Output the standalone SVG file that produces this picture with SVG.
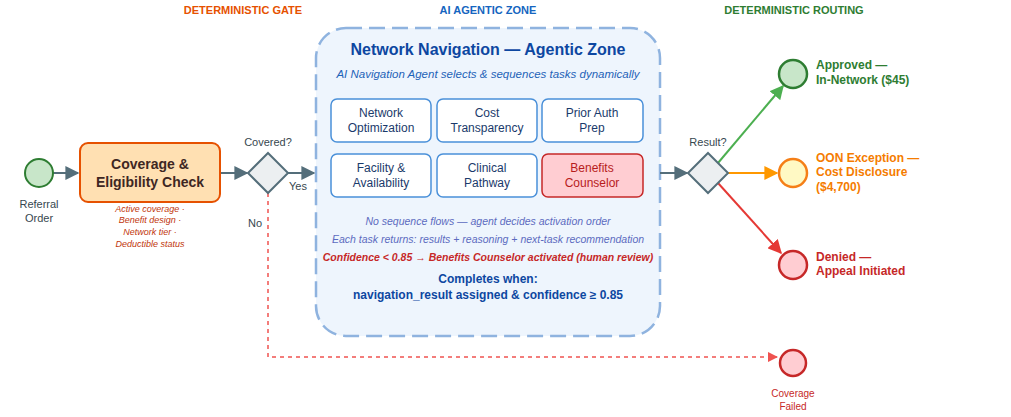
<svg xmlns="http://www.w3.org/2000/svg" width="1011" height="417" viewBox="0 0 1011 417">
<style>
text{font-family:"Liberation Sans",Arial,sans-serif}
.hdr{font-size:11px;font-weight:bold}
.task{fill:#fff;stroke:#4a90d9;stroke-width:1.5}
.tt{font-size:12px;fill:#1a3a6b;text-anchor:middle}
.lbl{font-size:11px;fill:#37474f}
.flow{stroke:#546e7a;stroke-width:2;fill:none}
</style>
<defs>
<marker id="ag" viewBox="0 0 10 10" refX="9" refY="5" markerWidth="7" markerHeight="7" orient="auto"><path d="M0,0L10,5L0,10z" fill="#546e7a"/></marker>
<marker id="agr" viewBox="0 0 10 10" refX="9" refY="5" markerWidth="7" markerHeight="7" orient="auto"><path d="M0,0L10,5L0,10z" fill="#4caf50"/></marker>
<marker id="aor" viewBox="0 0 10 10" refX="9" refY="5" markerWidth="7" markerHeight="7" orient="auto"><path d="M0,0L10,5L0,10z" fill="#ff9800"/></marker>
<marker id="ard" viewBox="0 0 10 10" refX="9" refY="5" markerWidth="7" markerHeight="7" orient="auto"><path d="M0,0L10,5L0,10z" fill="#e53935"/></marker>
<marker id="ard2" viewBox="0 0 10 10" refX="9" refY="5" markerWidth="7" markerHeight="7" orient="auto"><path d="M0,0L10,5L0,10z" fill="#ef5350"/></marker>
</defs>
<rect width="1011" height="417" fill="#fff"/>
<text class="hdr" x="243" y="14" fill="#e65100" text-anchor="middle">DETERMINISTIC GATE</text>
<text class="hdr" x="488" y="14" fill="#1565c0" text-anchor="middle">AI AGENTIC ZONE</text>
<text class="hdr" x="794" y="14" fill="#2e7d32" text-anchor="middle">DETERMINISTIC ROUTING</text>

<g id="zone">
<rect x="316" y="28" width="344" height="308" rx="30" fill="#eef5fd" stroke="#8fb3df" stroke-width="2.5" stroke-dasharray="16,7"/>
<text x="488" y="55" font-size="16" font-weight="bold" fill="#0d47a1" text-anchor="middle">Network Navigation — Agentic Zone</text>
<text x="488" y="78" font-size="11.5" font-style="italic" fill="#1e63b8" text-anchor="middle">AI Navigation Agent selects &amp; sequences tasks dynamically</text>
<text x="488" y="225" font-size="10.5" font-style="italic" fill="#5c6bc0" text-anchor="middle">No sequence flows — agent decides activation order</text>
<text x="488" y="243" font-size="10.5" font-style="italic" fill="#5c6bc0" text-anchor="middle">Each task returns: results + reasoning + next-task recommendation</text>
<text x="488" y="261" font-size="10.5" font-style="italic" font-weight="bold" fill="#c62828" text-anchor="middle">Confidence &lt; 0.85 → Benefits Counselor activated (human review)</text>
<text x="488" y="283" font-size="12" font-weight="bold" fill="#0d47a1" text-anchor="middle">Completes when:</text>
<text x="488" y="299" font-size="12" font-weight="bold" fill="#0d47a1" text-anchor="middle">navigation_result assigned &amp; confidence ≥ 0.85</text>
</g>
<g id="t1"><rect class="task" x="331" y="99" width="100" height="43" rx="6"/><text class="tt" x="381" y="117">Network</text><text class="tt" x="381" y="132">Optimization</text></g>
<g id="t2"><rect class="task" x="437" y="99" width="100" height="43" rx="6"/><text class="tt" x="487" y="117">Cost</text><text class="tt" x="487" y="132">Transparency</text></g>
<g id="t3"><rect class="task" x="542" y="99" width="101" height="43" rx="6"/><text class="tt" x="592" y="117">Prior Auth</text><text class="tt" x="592" y="132">Prep</text></g>
<g id="t4"><rect class="task" x="331" y="154" width="100" height="43" rx="6"/><text class="tt" x="381" y="172">Facility &amp;</text><text class="tt" x="381" y="187">Availability</text></g>
<g id="t5"><rect class="task" x="437" y="154" width="100" height="43" rx="6"/><text class="tt" x="487" y="172">Clinical</text><text class="tt" x="487" y="187">Pathway</text></g>
<g id="t6"><rect x="542" y="154" width="101" height="43" rx="6" fill="#ffcdd2" stroke="#c62828" stroke-width="1.5"/><text x="592" y="172" font-size="12" fill="#b71c1c" text-anchor="middle">Benefits</text><text x="592" y="187" font-size="12" fill="#b71c1c" text-anchor="middle">Counselor</text></g>

<g id="connectors">
<line class="flow" x1="53" y1="173" x2="78" y2="173" marker-end="url(#ag)"/>
<line class="flow" x1="220" y1="173" x2="247" y2="173" marker-end="url(#ag)"/>
<line class="flow" x1="288" y1="173" x2="314" y2="173" marker-end="url(#ag)"/>
<line class="flow" x1="660" y1="173" x2="687" y2="173" marker-end="url(#ag)"/>
<line x1="718" y1="163" x2="783" y2="86" stroke="#4caf50" stroke-width="2" marker-end="url(#agr)"/>
<line x1="728" y1="173" x2="777" y2="173" stroke="#ff9800" stroke-width="2" marker-end="url(#aor)"/>
<line x1="718" y1="183" x2="781" y2="253" stroke="#e53935" stroke-width="2" marker-end="url(#ard)"/>
<path d="M268,193V357H777" fill="none" stroke="#ef5350" stroke-width="1.5" stroke-dasharray="4,4" marker-end="url(#ard2)"/>
<text class="lbl" x="289" y="190">Yes</text>
<text class="lbl" x="248" y="227">No</text>
</g>

<g id="start"><circle cx="39" cy="173" r="14" fill="#c8e6c9" stroke="#2e7d32" stroke-width="2"/><text class="lbl" x="39" y="208" font-size="12" text-anchor="middle">Referral</text><text class="lbl" x="39" y="222" font-size="12" text-anchor="middle">Order</text></g>
<g id="check"><rect x="80" y="143" width="140" height="59" rx="8" fill="#ffe0b2" stroke="#e65100" stroke-width="2"/>
<text x="150" y="169" font-size="14" font-weight="bold" fill="#3e2723" text-anchor="middle">Coverage &amp;</text>
<text x="150" y="187" font-size="14" font-weight="bold" fill="#3e2723" text-anchor="middle">Eligibility Check</text>
<g font-size="9" font-style="italic" fill="#bf360c" text-anchor="middle"><text x="150" y="212">Active coverage ·</text><text x="150" y="223">Benefit design ·</text><text x="150" y="235">Network tier ·</text><text x="150" y="247">Deductible status</text></g></g>
<g id="gw1"><polygon points="268,153 288,173 268,193 248,173" fill="#eceff1" stroke="#546e7a" stroke-width="2"/><text class="lbl" x="268" y="146" text-anchor="middle">Covered?</text></g>
<g id="gw2"><polygon points="708,153 728,173 708,193 688,173" fill="#eceff1" stroke="#546e7a" stroke-width="2"/><text class="lbl" x="708" y="146" text-anchor="middle">Result?</text></g>
<g id="e1"><circle cx="793" cy="74" r="14" fill="#c8e6c9" stroke="#2e7d32" stroke-width="2.5"/><text x="816" y="69" font-size="12" font-weight="bold" fill="#2e7d32">Approved —</text><text x="816" y="84" font-size="12" font-weight="bold" fill="#2e7d32">In-Network ($45)</text></g>
<g id="e2"><circle cx="793" cy="173" r="14" fill="#fff9c4" stroke="#f57f17" stroke-width="2.5"/><text x="816" y="162" font-size="12" font-weight="bold" fill="#f57c00">OON Exception —</text><text x="816" y="176" font-size="12" font-weight="bold" fill="#f57c00">Cost Disclosure</text><text x="816" y="191" font-size="12" font-weight="bold" fill="#f57c00">($4,700)</text></g>
<g id="e3"><circle cx="793" cy="265" r="14" fill="#ffcdd2" stroke="#c62828" stroke-width="2.5"/><text x="816" y="261" font-size="12" font-weight="bold" fill="#c62828">Denied —</text><text x="816" y="275" font-size="12" font-weight="bold" fill="#c62828">Appeal Initiated</text></g>
<g id="e4"><circle cx="793" cy="363" r="13" fill="#ffcdd2" stroke="#c62828" stroke-width="2.5"/><text x="793" y="397" font-size="10" fill="#c62828" text-anchor="middle">Coverage</text><text x="793" y="410" font-size="10" fill="#c62828" text-anchor="middle">Failed</text></g>
</svg>
